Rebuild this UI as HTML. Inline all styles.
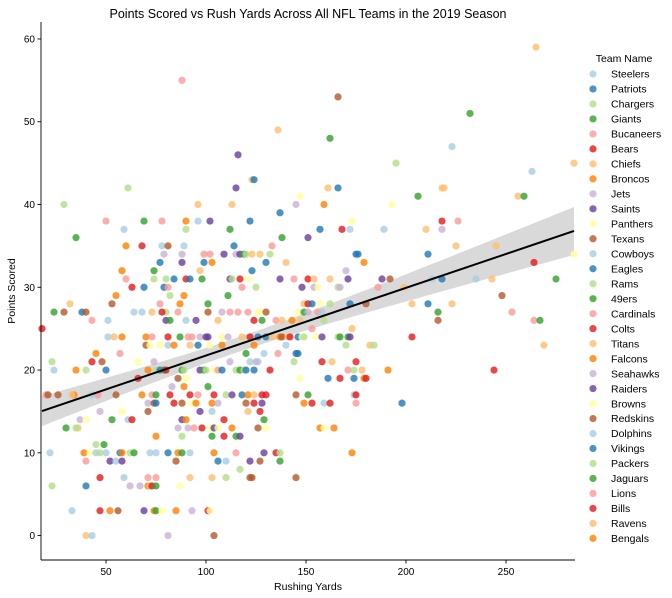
<!DOCTYPE html>
<html><head><meta charset="utf-8"><style>
html,body{margin:0;padding:0;background:#fff;}
svg{display:block;font-family:"Liberation Sans","DejaVu Sans",sans-serif;}
</style></head><body>
<svg id="chart" width="672" height="598" viewBox="0 0 672 598" xmlns="http://www.w3.org/2000/svg">
<text x="308" y="18" font-size="12.5" text-anchor="middle" fill="#000">Points Scored vs Rush Yards Across All NFL Teams in the 2019 Season</text>
<g id="band"></g>
<g id="points"></g>
<g id="reg"></g>
<g id="axes"></g>
<text x="308" y="590" font-size="10.5" text-anchor="middle" fill="#000">Rushing Yards</text>
<text transform="translate(15,291) rotate(-90)" font-size="10.5" text-anchor="middle" fill="#000">Points Scored</text>
<g id="legend">
<text x="624" y="62" font-size="10.5" text-anchor="middle" fill="#000">Team Name</text>
</g>
</svg>
<script>
const teamNames = ["Steelers","Patriots","Chargers","Giants","Bucaneers","Bears","Chiefs","Broncos","Jets","Saints","Panthers","Texans","Cowboys","Eagles","Rams","49ers","Cardinals","Colts","Titans","Falcons","Seahawks","Raiders","Browns","Redskins","Dolphins","Vikings","Packers","Jaguars","Lions","Bills","Ravens","Bengals"];
const palette = ["#a6cee3","#1f78b4","#b2df8a","#33a02c","#fb9a99","#e31a1c","#fdbf6f","#ff7f00","#cab2d6","#6a3d9a","#ffff99","#b15928"];
const xTicks = [50,100,150,200,250];
const yTicks = [0,10,20,30,40,50,60];
// [rushing yards, points scored, team index]
const games = [
[18,25,5],[20,17,4],[21,17,11],[23,21,2],[24,20,0],[24,27,3],[26,17,11],[29,40,2],[29,27,11],[30,13,3],[32,28,6],[34,17,7],[33,17,6],[35,36,3],[35,20,7],[36,13,6],[35,13,2],[37,14,8],[38,27,1],[40,27,11],[40,20,2],[40,14,10],[43,26,4],[43,21,5],[43,17,0],[45,22,7],[46,17,4],[47,15,8],[48,21,11],[50,20,1],[51,26,0],[51,24,0],[53,28,11],[53,14,3],[54,24,6],[55,29,7],[55,17,11],[57,22,4],[58,32,7],[58,24,7],[58,15,10],[59,37,0],[60,35,7],[60,31,4],[61,42,2],[61,14,0],[63,30,5],[63,14,5],[64,27,0],[66,21,10],[66,19,5],[68,35,5],[68,27,0],[68,17,7],[69,38,3],[69,30,1],[70,24,7],[70,23,11],[71,20,7],[71,15,11],[71,16,8],[73,24,4],[73,17,4],[74,32,3],[74,31,2],[74,21,8],[75,20,2],[74,16,11],[75,12,7],[77,33,1],[77,28,4],[77,23,10],[78,38,4],[78,35,0],[79,34,8],[80,27,2],[81,23,0],[80,31,2],[81,35,11],[79,30,1],[81,30,4],[80,26,9],[82,26,3],[81,24,5],[82,29,2],[82,17,5],[83,18,8],[84,23,7],[84,31,1],[84,16,5],[50,38,4],
[45,11,2],[49,11,3],
[22,10,0],[39,10,7],[42,10,10],[45,10,0],[47,10,2],[50,10,0],[57,10,1],[58,10,7],[62,10,2],[64,10,3],[72,10,0],[75,10,0],[81,10,1],[86,10,7],[88,10,3],[92,10,0],[104,10,7],[115,10,4],
[40,9,4],[52,9,9],[55,9,0],[58,9,9],[85,9,11],[106,9,1],[110,9,0],
[47,7,5],[59,7,0],[71,7,4],[75,7,4],[92,7,6],[103,7,6],[110,7,2],
[23,6,2],[40,6,1],[62,6,8],[67,6,8],[71,6,7],[72,6,6],[73,6,5],[75,6,3],[87,6,10],
[33,3,0],[47,3,5],[52,3,7],[56,3,11],[69,3,9],[74,3,7],[75,3,3],[78,3,10],[85,3,7],[93,3,8],[101,3,5],[102,3,10],
[40,0,6],[43,0,0],[81,0,8],[104,0,11],
[88,55,4],[116,46,9],[123,43,6],[124,43,1],[115,42,9],[96,40,6],[113,40,6],[90,38,7],[96,38,0],[102,38,9],[122,38,1],[90,37,2],[112,37,3],[89,35,0],[114,35,1],[88,34,8],[99,34,4],[102,34,4],[109,34,9],[115,34,8],[117,34,9],[119,34,3],[120,34,2],[123,34,6],[88,33,9],[99,33,1],[103,33,7],[97,32,6],[123,32,1],[90,31,5],[92,31,1],[98,31,3],[112,31,9],[113,31,2],[117,31,5],[121,31,10],[118,30,4],[125,30,2],[89,29,7],[111,29,3],[87,28,7],[101,28,3],[86,27,4],[101,27,11],[108,27,8],[112,27,4],[116,27,4],[121,27,4],[126,27,10],[73,27,6],[78,27,5],[90,26,0],[95,26,9],[106,26,6],[124,26,5],[87,24,3],[91,24,4],[93,24,4],[97,24,8],[100,24,9],[101,24,9],[108,24,10],[111,24,8],[118,24,6],[122,24,5],[126,24,1],[72,23,10],[92,23,6],[96,23,1],[102,23,10],[108,23,7],[124,23,7],[120,22,3],[112,21,8],[122,21,0],[126,21,0],[77,20,1],[79,20,3],[80,20,5],[88,20,3],[89,20,2],[97,20,9],[99,20,3],[100,20,2],[104,20,10],[106,20,4],[108,20,1],[115,20,2],[117,20,3],[119,20,2],[120,20,1],[124,20,1],[86,19,11],[90,19,10],[89,18,7],[101,18,3],[75,17,3],[92,17,5],[96,17,4],[104,17,5],[110,17,2],[113,17,9],[118,17,1],[121,17,7],[124,17,6],[75,16,1],[88,16,11],[93,16,10],[95,16,7],[103,16,7],[106,16,8],[120,16,11],[124,16,5],[97,15,9],[103,15,0],[121,15,6],[88,14,9],[90,14,7],[109,14,5],[86,13,8],[91,13,8],[94,13,4],[98,13,5],[102,13,10],[104,13,9],[106,13,10],[113,13,7],[126,13,11],[88,12,2],[103,12,3],[109,12,5],[115,12,3],[117,12,9],[117,8,2],[122,9,9],[122,7,11],
[166,53,11],[136,49,6],[162,48,3],[195,45,2],[161,42,6],[166,42,1],[147,41,10],[206,41,3],[145,40,8],[159,40,7],[193,40,10],[137,39,1],[173,38,10],[157,37,1],[168,37,5],[172,37,0],[189,37,0],[138,36,3],[151,36,9],[133,35,4],[132,34,2],[127,34,6],[175,34,1],[176,34,1],[130,33,1],[140,33,6],[179,33,7],[170,32,8],
[137,31,9],[144,31,4],[151,31,5],[154,31,6],[162,31,6],[171,31,9],[188,31,9],[192,31,11],[148,30,9],[154,30,8],[156,30,10],[166,30,2],[167,30,8],[186,30,4],[199,30,6],[149,28,6],[151,28,5],[153,28,1],[157,28,10],[162,28,2],[172,28,1],[180,28,11],[203,28,6],[127,27,10],[130,27,11],[146,27,10],[149,27,3],[151,27,8],[156,27,4],[158,27,0],[128,26,3],[135,26,4],[138,26,6],[143,26,7],[147,26,6],[159,26,2],[153,25,4],[173,25,6],
[130,24,1],[133,24,6],[137,24,7],[138,24,11],[141,24,6],[142,24,5],[146,24,1],[148,24,10],[149,24,2],[155,24,10],[158,24,9],[166,24,2],[167,24,3],[171,24,3],[172,24,9],[203,24,5],[140,23,0],[170,23,2],[182,23,6],[184,23,2],[129,22,0],[136,22,4],[145,22,1],[146,22,1],[125,21,8],[144,21,2],[158,21,5],[163,21,6],[175,21,5],[132,20,5],[171,20,4],[174,20,2],[178,20,6],[191,20,7],[147,19,10],[161,19,1],[167,19,5],[174,19,1],[179,19,7],[180,19,5],[128,17,5],[130,17,5],[145,17,11],[151,17,3],[174,17,0],[175,17,5],[128,16,9],[149,16,7],[153,16,5],[159,16,0],[162,16,5],[175,16,4],[198,16,1],[127,15,5],[129,14,3],[130,13,10],[157,13,7],[159,13,10],[164,13,7],[129,10,9],[135,10,5],[137,10,2],[173,10,7],[127,9,11],[137,9,3],[123,7,11],[145,7,11],
[265,59,6],[232,51,3],[223,47,0],[263,44,0],[284,45,6],[218,42,6],[219,42,6],[256,41,6],[259,41,3],[218,38,5],[226,38,4],[210,37,6],[218,37,8],[225,35,6],[245,35,6],[211,34,1],[264,33,5],[284,34,10],[213,31,0],[218,31,1],[235,31,0],[243,31,6],[275,31,3],[248,29,11],[211,28,1],[223,28,6],[216,27,3],[253,27,4],[216,26,11],[264,26,4],[267,26,3],[269,23,6],[244,20,5]
];
const rushYards = games.map(g => g[0]);
const pointsScored = games.map(g => g[1]);
const teamIndex = games.map(g => g[2]);

const NS = "http://www.w3.org/2000/svg";
const X0 = 17.5, X1 = 284.5, Y0 = -2.95, Y1 = 62.05;
const PL = 41, PR = 575, PT = 22, PB = 560;
function sx(v){ return PL + (v - X0) / (X1 - X0) * (PR - PL); }
function sy(v){ return PB - (v - Y0) / (Y1 - Y0) * (PB - PT); }
function mk(tag, attrs, parent){ const e = document.createElementNS(NS, tag); for (const k in attrs) e.setAttribute(k, attrs[k]); parent.appendChild(e); return e; }

// points
const pg = document.getElementById("points");
for (let i = 0; i < rushYards.length; i++) {
  const c = mk("circle", {cx: sx(rushYards[i]).toFixed(2), cy: sy(pointsScored[i]).toFixed(2), r: 3.6, fill: palette[teamIndex[i] % 12], "fill-opacity": 0.8}, pg);
  
  
}

// regression + CI
const n = rushYards.length;
const mx = rushYards.reduce((a,b)=>a+b,0)/n, my = pointsScored.reduce((a,b)=>a+b,0)/n;
let sxx = 0, sxy = 0;
for (let i = 0; i < n; i++){ sxx += (rushYards[i]-mx)**2; sxy += (rushYards[i]-mx)*(pointsScored[i]-my); }
const slope = sxy/sxx, icpt = my - slope*mx;
let sse = 0; for (let i = 0; i < n; i++){ sse += (pointsScored[i] - (icpt + slope*rushYards[i]))**2; }
const s = Math.sqrt(sse/(n-2));
const xmin = Math.min(...rushYards), xmax = Math.max(...rushYards);
const up = [], lo = [];
for (let k = 0; k <= 60; k++){
  const xv = xmin + (xmax - xmin)*k/60;
  const yv = icpt + slope*xv;
  const se = 1.97 * s * Math.sqrt(1/n + (xv-mx)**2/sxx);
  up.push(sx(xv).toFixed(2)+","+sy(yv+se).toFixed(2));
  lo.unshift(sx(xv).toFixed(2)+","+sy(yv-se).toFixed(2));
}
const band = mk("polygon", {points: up.concat(lo).join(" "), fill: "#000", "fill-opacity": 0.15}, document.getElementById("band"));


const rl = mk("line", {x1: sx(xmin), y1: sy(icpt+slope*xmin), x2: sx(xmax), y2: sy(icpt+slope*xmax), stroke: "#000", "stroke-width": 2}, document.getElementById("reg"));



// axes
const ax = document.getElementById("axes");
const ls = mk("line", {x1: PL, y1: PT, x2: PL, y2: PB, stroke: "#000", "stroke-width": 0.9}, ax);


const bs = mk("line", {x1: PL, y1: PB, x2: PR, y2: PB, stroke: "#000", "stroke-width": 0.9}, ax);


for (const t of xTicks){
  const tk = mk("line", {x1: sx(t), y1: PB, x2: sx(t), y2: PB+3.5, stroke: "#000", "stroke-width": 0.9}, ax);
  
  
  const tl = mk("text", {x: sx(t), y: PB+15, "font-size": 10, "text-anchor": "middle", fill: "#000"}, ax);
  tl.textContent = t;
  
  
}
for (const t of yTicks){
  const tk = mk("line", {x1: PL-3.5, y1: sy(t), x2: PL, y2: sy(t), stroke: "#000", "stroke-width": 0.9}, ax);
  
  
  const tl = mk("text", {x: PL-6, y: sy(t)+3.5, "font-size": 10, "text-anchor": "end", fill: "#000"}, ax);
  tl.textContent = t;
  
  
}

// legend
const lg = document.getElementById("legend");
teamNames.forEach((nm, i) => {
  const y = 74 + i*14.98;
  const g = mk("g", {}, lg);
  
  
  mk("circle", {cx: 593, cy: y, r: 3.6, fill: palette[i % 12], "fill-opacity": 0.8}, g);
  const t = mk("text", {x: 611, y: y+3.7, "font-size": 10.5, fill: "#000"}, g);
  t.textContent = nm;
});
</script>
</body></html>
